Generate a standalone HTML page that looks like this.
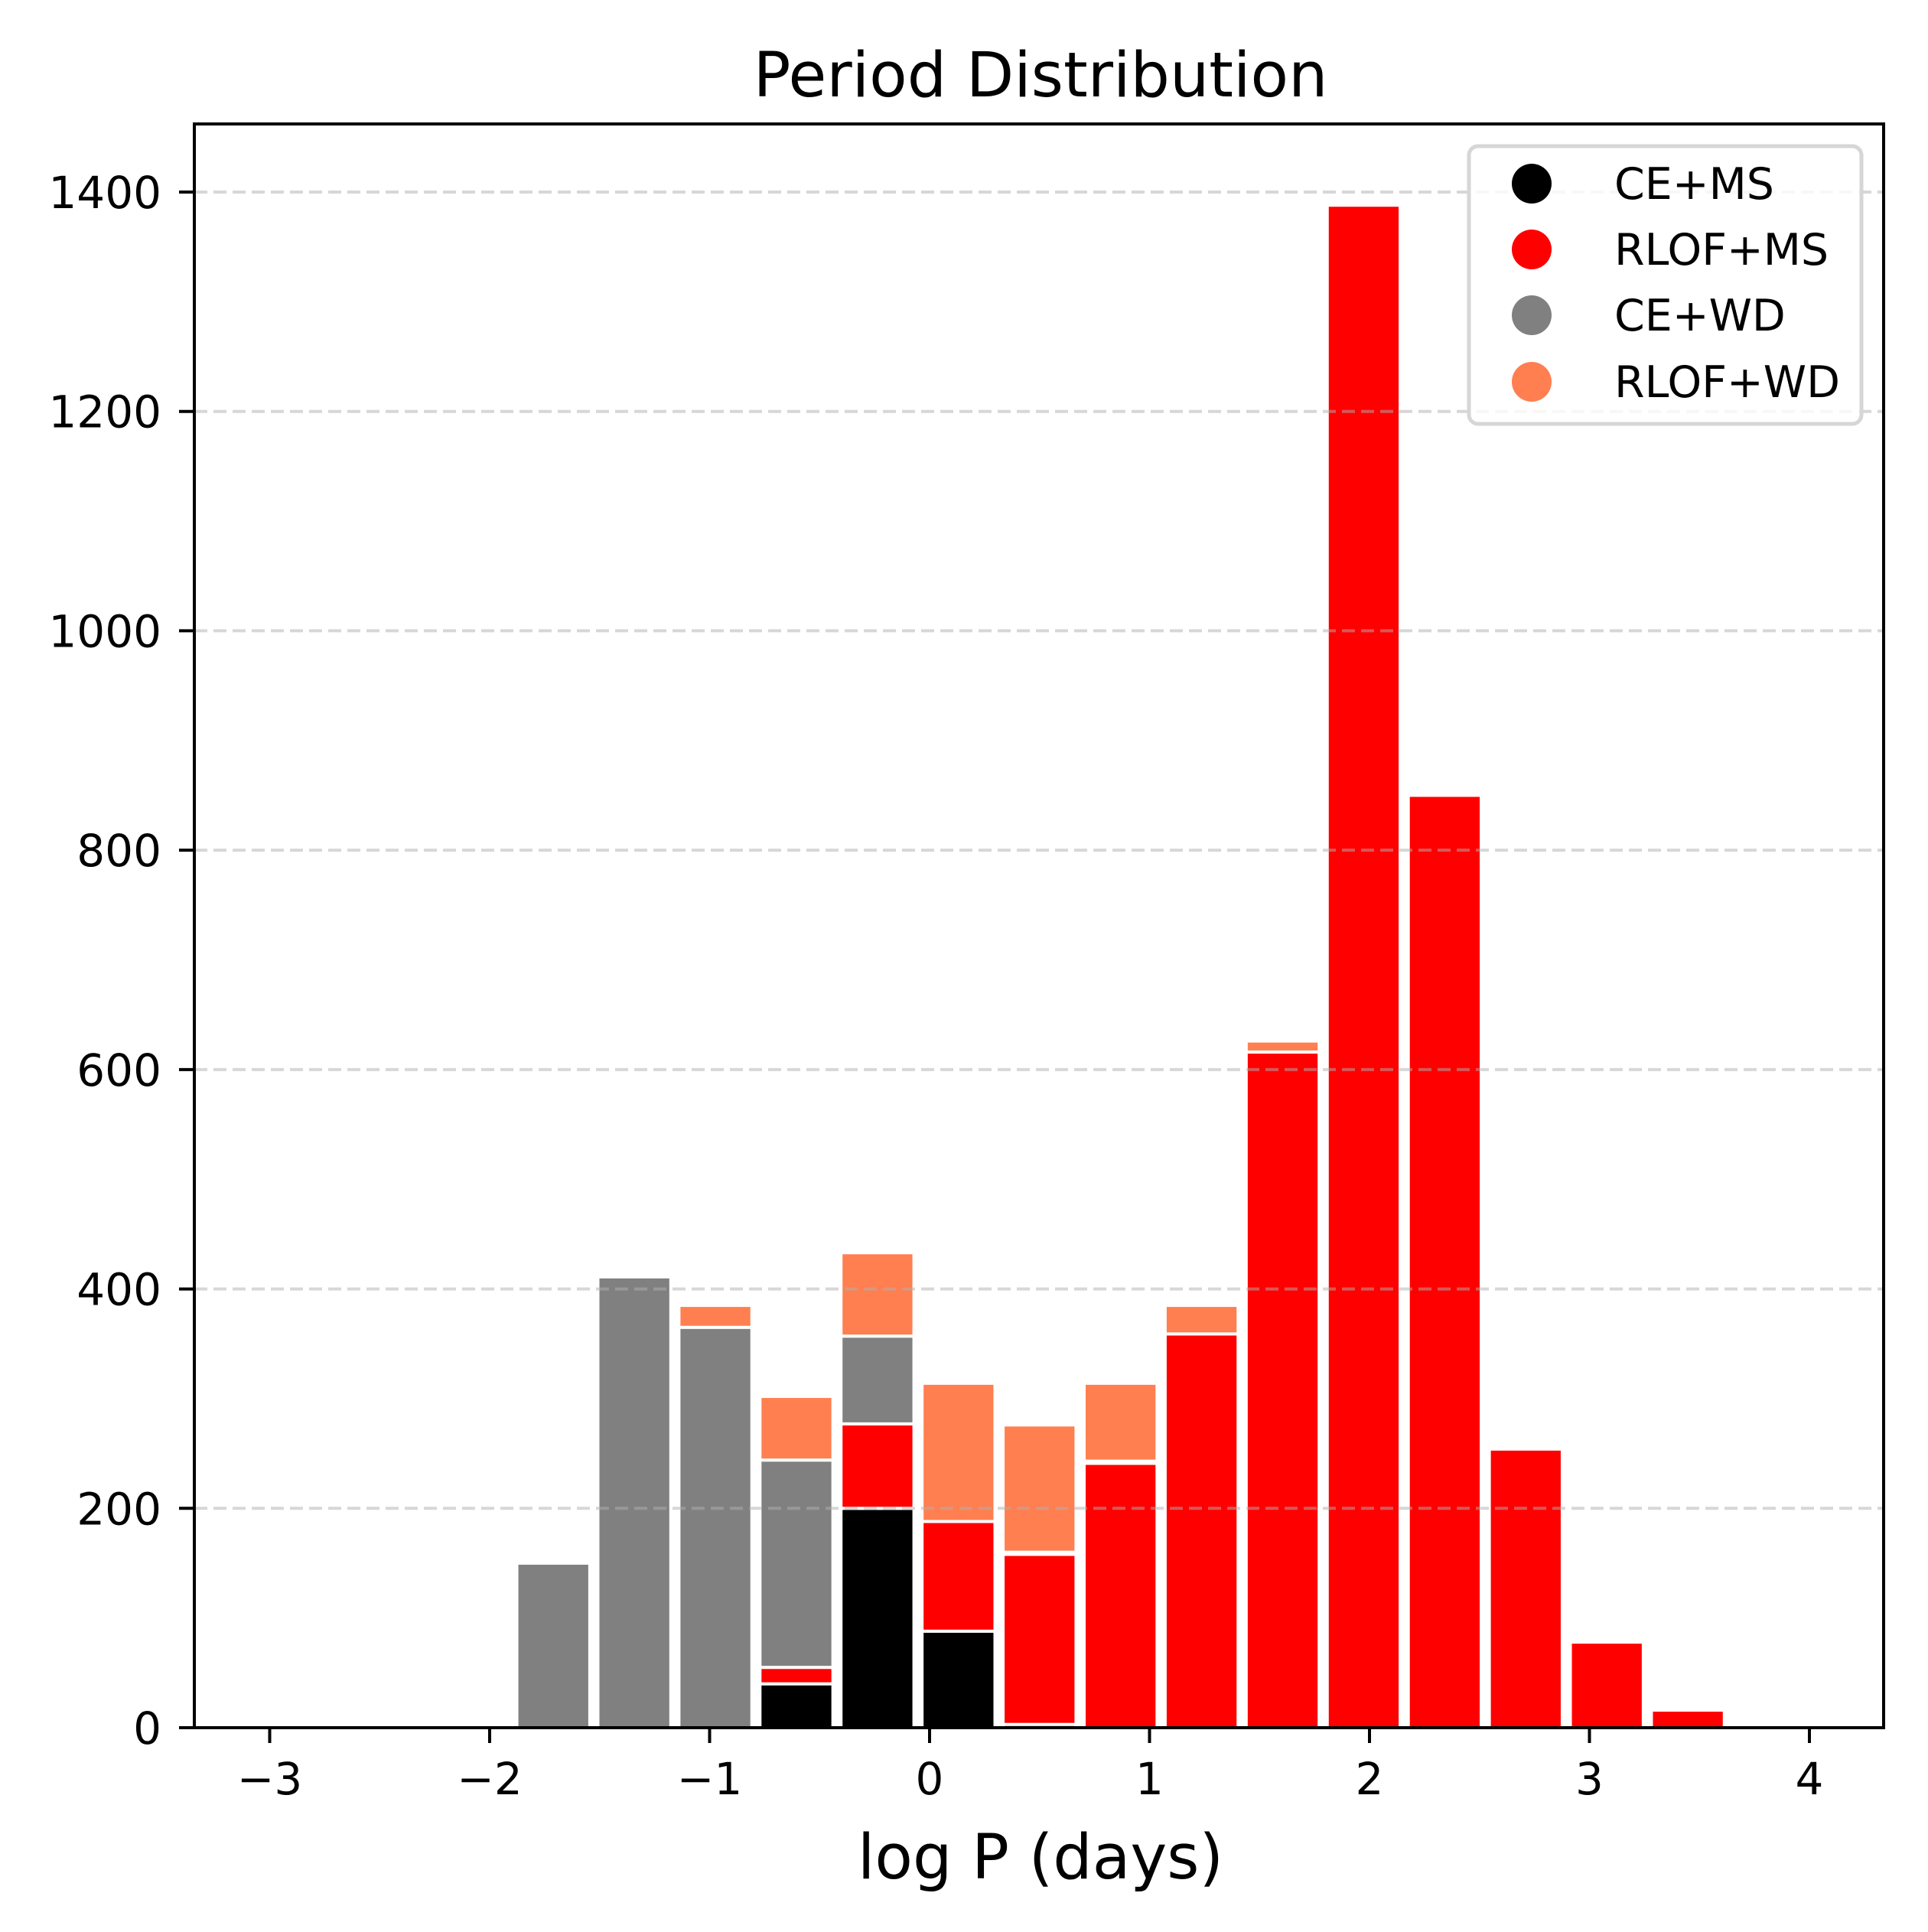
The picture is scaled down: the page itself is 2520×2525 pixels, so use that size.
<!DOCTYPE html>
<html><head><meta charset="utf-8"><style>
html,body{margin:0;padding:0;background:#fff}
svg text{font-family:"DejaVu Sans","Liberation Sans",sans-serif}
</style></head><body>
<svg id="chart" width="2520" height="2520" viewBox="0 0 2520 2520" xmlns="http://www.w3.org/2000/svg">
<rect width="2520" height="2520" fill="#fff"/>
<text x="1360" y="126" font-size="81" text-anchor="middle">Period Distribution</text>
<g id="bars"></g>
<g id="grid"></g>
<rect x="254" y="162" width="2208" height="2096" fill="none" stroke="#000" stroke-width="4"/>
<g id="xticks"></g>
<g id="yticks"></g>
<text x="1360" y="2455" font-size="81" text-anchor="middle">log P (days)</text>
<g>
<rect x="1920" y="191" width="513" height="363" rx="12" fill="#fff" fill-opacity="0.8" stroke="#d6d6d6" stroke-width="5"/>
<g><circle cx="2002" cy="240" r="26" fill="#000"/><text x="2110" y="260" font-size="57">CE+MS</text></g>
<g><circle cx="2002" cy="326" r="26" fill="#ff0000"/><text x="2110" y="346" font-size="57">RLOF+MS</text></g>
<g><circle cx="2002" cy="412" r="26" fill="#808080"/><text x="2110" y="432" font-size="57">CE+WD</text></g>
<g><circle cx="2002" cy="499" r="26" fill="#ff7f50"/><text x="2110" y="519" font-size="57">RLOF+WD</text></g>
</g>
</svg>
<script>
const binStart = -3, binCount = 19, binMax = 4;
const ceMS   = [0,0,0,0,0,0,40,200,88,3,0,0,0,0,0,0,0,0,0];
const rlofMS = [0,0,0,0,0,0,15,77,100,155,241,359,616,1388,850,254,78,16,0];
const ceWD   = [0,0,0,150,411,365,189,80,0,2,2,0,0,0,0,0,0,0,0];
const rlofWD = [0,0,0,0,0,20,58,76,126,116,71,26,10,0,0,0,0,0,0];
const xTicks = [-3,-2,-1,0,1,2,3,4];
const yTicks = [0,200,400,600,800,1000,1200,1400];
const NS="http://www.w3.org/2000/svg";
function X(v){return 1215 + v*287.5;}
function Y(v){return 2258 - v*(2258-251)/1400;}
function mk(t,a){const e=document.createElementNS(NS,t);for(const k in a)e.setAttribute(k,a[k]);return e;}
const bars=document.getElementById('bars');
const series=[[ceMS,'#000000','ce-ms'],[rlofMS,'#ff0000','rlof-ms'],[ceWD,'#808080','ce-wd'],[rlofWD,'#ff7f50','rlof-wd']];
const w=(binMax-binStart)/binCount, rw=0.9;
for(let i=0;i<binCount;i++){
  let base=0;
  for(const [arr,col,nm] of series){
    const v=arr[i]; if(v<=0) continue;
    const c=binStart+(i+0.5)*w;
    const x0=X(c-w*rw/2), x1=X(c+w*rw/2);
    const r=mk('rect',{x:x0,y:Y(base+v),width:x1-x0,height:Y(base)-Y(base+v),fill:col,stroke:'#fff','stroke-width':4});
    
    
    bars.appendChild(r); base+=v;
  }
}
const grid=document.getElementById('grid'), yt=document.getElementById('yticks'), xt=document.getElementById('xticks');
for(const t of yTicks){
  if(t>0){const g=mk('line',{x1:254,x2:2462,y1:Y(t),y2:Y(t),stroke:'#b0b0b0','stroke-opacity':0.5,'stroke-width':4,'stroke-dasharray':'17,8'});
  
  
  grid.appendChild(g);}
  const tk=mk('line',{x1:234,x2:254,y1:Y(t),y2:Y(t),stroke:'#000','stroke-width':4});
  
  
  yt.appendChild(tk);
  const lb=mk('text',{x:211,y:Y(t)+21,'font-size':58,'text-anchor':'end'});lb.textContent=t;
  
  
  yt.appendChild(lb);
}
for(const t of xTicks){
  const tk=mk('line',{x1:X(t),x2:X(t),y1:2258,y2:2278,stroke:'#000','stroke-width':4});
  
  
  xt.appendChild(tk);
  const lb=mk('text',{x:X(t),y:2345,'font-size':58,'text-anchor':'middle'});lb.textContent=t<0?'\u2212'+(-t):t;
  
  
  xt.appendChild(lb);
}
</script>
</body></html>
